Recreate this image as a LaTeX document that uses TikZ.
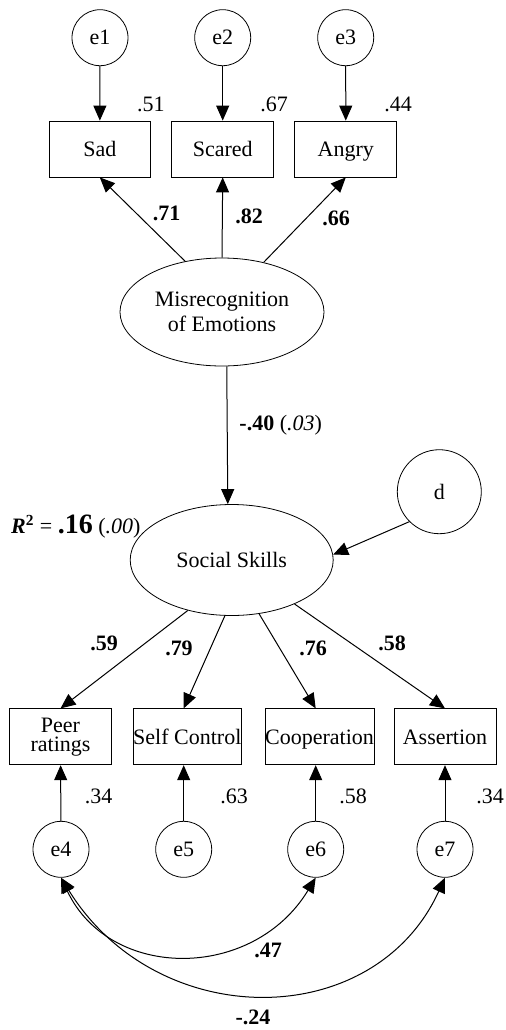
\documentclass[tikz,border=0pt]{standalone}
\usepackage{fontspec}
\setmainfont{Liberation Serif}
\usetikzlibrary{shapes.geometric,arrows.meta}

\begin{document}
\begin{tikzpicture}[x=0.5pt,y=-0.5pt,
		font=\fontsize{11}{12.5}\selectfont,
		obs_style/.style={rectangle,draw=black,minimum height=28pt,inner xsep=0pt,inner ysep=1pt,text height=8.5pt,text depth=0.8pt},
		err_style/.style={circle,draw=black,minimum size=28pt,inner sep=0pt},
		lat_style/.style={ellipse,draw=black,minimum width=102pt,minimum height=54pt,inner sep=0pt,align=center},
		edge_style/.style={draw=black,line width=0.5pt,-{Triangle[length=7.5pt,width=6.5pt]}},
		cov_style/.style={draw=black,line width=0.5pt,{Triangle[length=7.5pt,width=6.5pt]}-{Triangle[length=7.5pt,width=6.5pt]}},
		load_style/.style={font=\fontsize{11}{12.5}\selectfont\bfseries}]

		\useasboundingbox (0,0) rectangle (505,1030);

		% emotion indicators
		\node[err_style] (e1) at (100,37.7) {e1};
		\node[err_style] (e2) at (222.7,37.7) {e2};
		\node[err_style] (e3) at (345.7,37.7) {e3};
		\node[obs_style,minimum width=50.5pt] (sad) at (99.8,149) {Sad};
		\node[obs_style,minimum width=51pt] (scared) at (222.7,149) {Scared};
		\node[obs_style,minimum width=51pt] (angry) at (345.8,149) {Angry};

		% latent variables
		\node[lat_style] (mis) at (222,312) {Misrecognition\\ of Emotions};
		\node[lat_style,minimum width=101.5pt,minimum height=55.5pt] (ss) at (231.7,560) {Social Skills};
		\node[err_style,minimum size=42pt] (d) at (439.3,491.7) {d};

		% social skill indicators
		\node[obs_style,text height=,text depth=,minimum width=51pt,align=center,font=\fontsize{11}{9.5}\selectfont] (peer) at (60.5,736.8) {Peer\\ratings};
		\node[obs_style,minimum width=54pt] (selfc) at (187.3,736.8) {Self Control};
		\node[obs_style,minimum width=54.5pt] (coop) at (319.5,736.8) {Cooperation};
		\node[obs_style,minimum width=51pt] (assert) at (445,736.8) {Assertion};
		\node[err_style] (e4) at (61,849.3) {e4};
		\node[err_style] (e5) at (183.7,849.3) {e5};
		\node[err_style] (e6) at (315.7,849.3) {e6};
		\node[err_style] (e7) at (445,849.3) {e7};

		\draw[edge_style]  (e1) -- (sad);
		\draw[edge_style]  (e2) -- (scared);
		\draw[edge_style]  (e3) -- (angry);
		\draw[edge_style]  (mis.126) -- (sad.south);
		\draw[edge_style]  (mis.north) -- (scared.south);
		\draw[edge_style]  (mis.50) -- (angry.south);
		\draw[edge_style]  (mis.275) -- (ss.94);
		\draw[edge_style]  (d.225) -- (ss.3);
		\draw[edge_style]  (ss.229) -- (peer.north);
		\draw[edge_style]  (ss.263) -- (selfc.north -| e5);
		\draw[edge_style]  (ss.297) -- (coop.north -| e6);
		\draw[edge_style]  (ss.325) -- (assert.north);
		\draw[edge_style]  (e4) -- (peer);
		\draw[edge_style]  (e5) -- (selfc.south -| e5);
		\draw[edge_style]  (e6) -- (coop.south -| e6);
		\draw[edge_style]  (e7) -- (assert);
		\draw[cov_style]  (e4.south) .. controls (110,981) and (253,981) .. (e6.south);
		\draw[cov_style]  (e4.south) .. controls (157,1033) and (374,1033) .. (e7.south);

		% estimates
		\node (v1) at (151,104) {.51};
		\node (v2) at (274,104) {.67};
		\node (v3) at (398,104) {.44};
		\node[load_style] (l1) at (166.7,213) {.71};
		\node[load_style] (l2) at (249,216) {.82};
		\node[load_style] (l3) at (336,218) {.66};
		\node (b40) at (280.7,425) {\textbf{-.40} (\textit{.03})};
		\node (rsq) at (75.8,527) {\textbf{\textit{R}\textsuperscript{2}} = \textbf{\fontsize{14}{16}\selectfont .16} (\textit{.00})};
		\node[load_style] (l4) at (104,643) {.59};
		\node[load_style] (l5) at (179,648) {.79};
		\node[load_style] (l6) at (313,648) {.76};
		\node[load_style] (l7) at (392,643) {.58};
		\node (v4) at (98.7,796) {.34};
		\node (v5) at (234,796) {.63};
		\node (v6) at (353,796) {.58};
		\node (v7) at (490,796) {.34};
		\node[load_style] (c1) at (268,950) {.47};
		\node[load_style] (c2) at (253,1017) {-.24};

		\end{tikzpicture}
\end{document}
